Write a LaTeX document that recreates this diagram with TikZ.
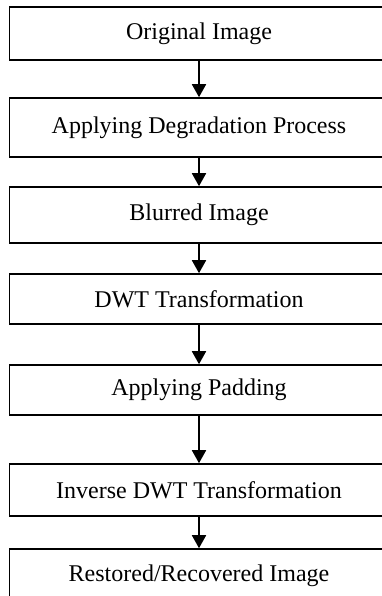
\documentclass[tikz,border=0pt]{standalone}
\usepackage{fontspec}
\setmainfont{Liberation Serif}
\usetikzlibrary{arrows.meta}
\begin{document}
\begin{tikzpicture}[x=1pt,y=-1pt,
  stage/.style={draw=black,line width=1.6pt,rectangle,minimum width=379pt,inner sep=0pt,
    font=\fontsize{24}{28}\selectfont},
  flow/.style={line width=1.8pt,-{Triangle[width=14pt,length=13pt]}}]
\useasboundingbox (0,0) rectangle (382,596);
\clip (0,0) rectangle (382,596);
\node[stage,minimum height=53pt] (b1) at (199,33.5) {Original Image};
\node[stage,minimum height=59pt] (b2) at (199,127.5) {Applying Degradation Process};
\node[stage,minimum height=56pt] (b3) at (199,215) {Blurred Image};
\node[stage,minimum height=50pt] (b4) at (199,299) {DWT Transformation};
\node[stage,minimum height=50pt] (b5) at (199,390) {Applying Padding};
\node[stage,minimum height=52pt] (b6) at (199,490) {Inverse DWT Transformation};
\node[stage,minimum height=54pt] (b7) at (199,576) {Restored/Recovered Image};
\draw[flow] (b1) -- (b2);
\draw[flow] (b2) -- (b3);
\draw[flow] (b3) -- (b4);
\draw[flow] (b4) -- (b5);
\draw[flow] (b5) -- (b6);
\draw[flow] (b6) -- (b7);
\end{tikzpicture}
\end{document}
